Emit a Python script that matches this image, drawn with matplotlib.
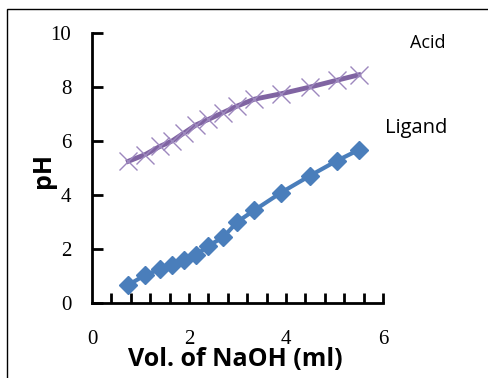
import numpy as np
import matplotlib.pyplot as plt
from matplotlib.patches import Rectangle

# volume of NaOH (ml) and pH readings
vol = [0.75, 1.1, 1.4, 1.65, 1.9, 2.15, 2.4, 2.7, 3.0, 3.35, 3.9, 4.5, 5.05, 5.5]
ph_acid = [5.25, 5.5, 5.8, 6.0, 6.3, 6.6, 6.8, 7.05, 7.3, 7.55, 7.75, 8.0, 8.25, 8.45]
ph_ligand = [0.67, 1.04, 1.25, 1.41, 1.6, 1.78, 2.12, 2.43, 3.01, 3.44, 4.09, 4.72, 5.27, 5.67]

x_labels = [0, 2, 4, 6]
y_ticks = [0, 2, 4, 6, 8, 10]

serif = ['Liberation Serif', 'DejaVu Serif']
sans = ['Open Sans', 'DejaVu Sans']

fig = plt.figure(figsize=(4.88, 3.78), dpi=100)
ax = fig.add_axes([92/488, 1 - 303/378, 291/488, 270/378])

# chart border (only left and top visible)
fig.patches.append(Rectangle((7/488, -0.1), 1.2, 1 - 9/378 + 0.1, transform=fig.transFigure,
                             fill=False, edgecolor='black', linewidth=1.0))

ax.plot(vol, ph_acid, color='#8064A2', linewidth=3.5, marker='x', markersize=13,
        markeredgecolor='#9D88BE', markeredgewidth=1.0, zorder=3)
ax.plot(vol, ph_ligand, color='#4A7EBB', linewidth=3, marker='D', markersize=9.5,
        markerfacecolor='#4A7EBB', markeredgecolor='#4A7EBB', zorder=3)

ax.set_xlim(0, 6)
ax.set_ylim(0, 10)
ax.spines['top'].set_visible(False)
ax.spines['right'].set_visible(False)
ax.spines['left'].set_linewidth(2)
ax.spines['bottom'].set_linewidth(2)

ax.set_xticks(np.arange(0.4, 6.01, 0.4))
ax.set_xticklabels([])
ax.tick_params(axis='x', direction='in', length=7, width=2)
ax.set_yticks(y_ticks)
ax.set_yticklabels([str(v) for v in y_ticks], family=serif, fontsize=15)
ax.tick_params(axis='y', direction='in', length=8, width=2, pad=15)

for v in x_labels:
    ax.text(v, -1.35, str(v), ha='center', va='center', family=serif, fontsize=15,
            clip_on=False)

fig.text(235/488, 1 - 359/378, 'Vol. of NaOH (ml)', ha='center', va='center',
         family=sans, fontsize=18, fontweight='bold')
fig.text(43/488, 1 - 170/378, 'pH', ha='center', va='center', rotation=90,
         family=sans, fontsize=18, fontweight='bold')

fig.text(428/488, 1 - 43/378, 'Acid', ha='center', va='center', family=sans, fontsize=13)
fig.text(416/488, 1 - 128/378, 'Ligand', ha='center', va='center', family=sans, fontsize=14.5)

fig.savefig('out.png', dpi=100)
